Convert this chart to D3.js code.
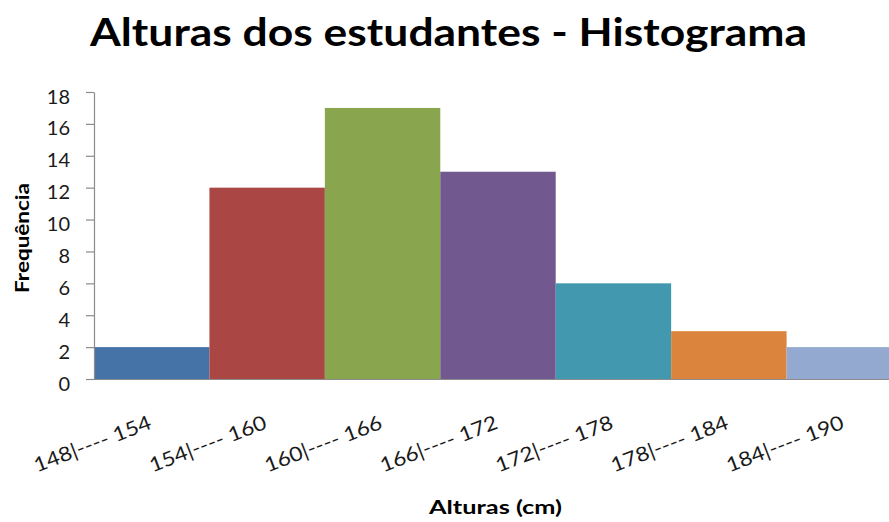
<!DOCTYPE html>
<html>
<head>
<meta charset="utf-8">
<script src="https://cdn.jsdelivr.net/npm/d3@7"></script>
<style>
  html, body { margin: 0; padding: 0; background: #fff; }
  svg { display: block; }
  text { font-family: Lato, "Open Sans", sans-serif; }
</style>
</head>
<body>
<svg id="chart" width="889" height="522"></svg>
<script>
// Height classes (cm) and how many students fall in each
const classes = ["148|---- 154", "154|---- 160", "160|---- 166", "166|---- 172",
                 "172|---- 178", "178|---- 184", "184|---- 190"];
const frequencies = [2, 12, 17, 13, 6, 3, 2];
const barColors = ["#4572A7", "#AA4643", "#89A54E", "#71588F", "#4198AF", "#DB843D", "#93A9CF"];
const yTicks = [0, 2, 4, 6, 8, 10, 12, 14, 16, 18];

const svg = d3.select("#chart");

const x = d3.scaleBand().domain(classes).range([94, 902]).padding(0);
const y = d3.scaleLinear().domain([0, 18]).range([379, 92]);

// bars (histogram: no gaps)
svg.append("g").selectAll("rect")
  .data(classes)
  .join("rect")
  .attr("x", d => x(d))
  .attr("width", x.bandwidth())
  .attr("y", (d, i) => y(frequencies[i]))
  .attr("height", (d, i) => y(0) - y(frequencies[i]))
  .attr("fill", (d, i) => barColors[i]);

// y axis
const yAxis = svg.append("g")
  .attr("transform", "translate(94,0)")
  .call(d3.axisLeft(y).tickValues(yTicks).tickSize(8).tickSizeOuter(0).tickPadding(16));
yAxis.select(".domain").attr("stroke", "#8c8c8c").attr("stroke-width", 1.2);
yAxis.selectAll(".tick line").attr("stroke", "#8c8c8c").attr("stroke-width", 1.2);
yAxis.selectAll(".tick text")
  .attr("font-size", 20)
  .attr("font-family", "Lato, sans-serif")
  .attr("fill", "#1a1a1a")
  .attr("dy", "0.55em");

// x axis baseline
const xAxis = svg.append("g")
  .attr("transform", `translate(0,${y(0)})`)
  .call(d3.axisBottom(x).tickSize(0).tickSizeOuter(0).tickFormat(""));
xAxis.select(".domain").attr("stroke", "#8c8c8c").attr("stroke-width", 1.2)
  .attr("d", `M86,0.5H902`);

// rotated class labels
svg.append("g").selectAll("text")
  .data(classes)
  .join("text")
  .attr("transform", d => `translate(${x(d) + x.bandwidth() / 2 + 1},428) rotate(-21)`)
  .attr("text-anchor", "end")
  .attr("font-size", 20)
  .attr("fill", "#1a1a1a")
  .attr("textLength", 124)
  .attr("lengthAdjust", "spacingAndGlyphs")
  .text(d => d);

// title
svg.append("text")
  .attr("x", 448.5).attr("y", 46)
  .attr("text-anchor", "middle")
  .attr("font-size", 39)
  .attr("font-weight", "bold")
  .attr("fill", "#000")
  .attr("textLength", 717)
  .attr("lengthAdjust", "spacingAndGlyphs")
  .text("Alturas dos estudantes - Histograma");

// axis titles
svg.append("text")
  .attr("transform", "translate(29,238) rotate(-90)")
  .attr("text-anchor", "middle")
  .attr("font-size", 18)
  .attr("font-weight", "bold")
  .attr("fill", "#000")
  .attr("textLength", 110)
  .attr("lengthAdjust", "spacingAndGlyphs")
  .text("Frequência");

svg.append("text")
  .attr("x", 495.5).attr("y", 514)
  .attr("text-anchor", "middle")
  .attr("font-size", 18)
  .attr("font-weight", "bold")
  .attr("fill", "#000")
  .attr("textLength", 133)
  .attr("lengthAdjust", "spacingAndGlyphs")
  .text("Alturas (cm)");
</script>
</body>
</html>
